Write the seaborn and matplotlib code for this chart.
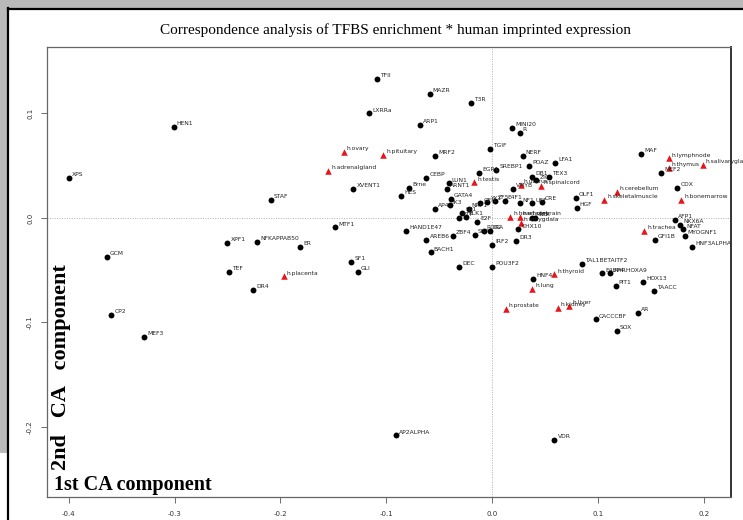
import matplotlib
matplotlib.use("Agg")
import matplotlib.pyplot as plt
import seaborn as sns
import pandas as pd
from matplotlib.patches import Rectangle
from matplotlib.lines import Line2D

# ---- data: TFBS (black dots) ----
tfbs_names = ["TFII", "MAZR", "T3R", "LXRRa", "ARP1", "HEN1", "MINI20", "R", "TGIF", "NERF",
              "MAF", "MEF2", "MRF2", "LFA1", "POAZ", "EGR1", "SREBP1", "DB1", "ZIC", "TEX3",
              "VMYB", "XPS", "CDX", "OLF1", "HGF", "CRE", "STAF", "CEBP", "XVENT1", "LUN1",
              "ARNT1", "Brne", "HES", "GATA4", "IK3", "AP4", "SP1", "NRF1", "ETF", "ELK1",
              "E2F", "GFI1", "YY1", "ZF5", "E4F1", "NF1", "USF", "MYB", "RFX", "CHX10",
              "DR3", "IRF2", "POU3F2", "DEC", "BACH1", "AREB6", "ZBF4", "SRF", "RORA", "CG",
              "HAND1E47", "MTF1", "XPF1", "NFKAPPAB50", "ER", "GCM", "TEF", "DR4", "CP2", "MEF3",
              "SF1", "GLI", "AFP1", "NKX6A", "NFAT", "MYOGNF1", "GFI1B", "HNF3ALPHA",
              "TAL1BETAITF2", "HNF4", "E4BP4", "AHRHOXA9", "HOX13", "PIT1", "TAACC", "AR",
              "CACCCBF", "SOX", "AP2ALPHA", "VDR"]
tfbs_x = [-0.109, -0.059, -0.020, -0.116, -0.068, -0.301, 0.019, 0.026, -0.002, 0.029,
          0.141, 0.160, -0.054, 0.060, 0.035, -0.012, 0.004, 0.038, 0.042, 0.054,
          0.020, -0.400, 0.175, 0.079, 0.080, 0.047, -0.209, -0.062, -0.131, -0.041,
          -0.043, -0.078, -0.086, -0.039, -0.040, -0.054, -0.028, -0.022, -0.031, -0.025,
          -0.014, -0.011, -0.005, 0.003, 0.012, 0.026, 0.038, 0.038, 0.041, 0.025,
          0.023, 0.000, 0.000, -0.031, -0.058, -0.062, -0.037, -0.016, -0.008, -0.002,
          -0.081, -0.148, -0.250, -0.222, -0.181, -0.364, -0.249, -0.226, -0.360, -0.329,
          -0.133, -0.127, 0.173, 0.178, 0.181, 0.182, 0.154, 0.189,
          0.085, 0.039, 0.104, 0.112, 0.143, 0.117, 0.153, 0.138,
          0.098, 0.118, -0.091, 0.059]
tfbs_y = [0.133, 0.119, 0.110, 0.100, 0.089, 0.087, 0.086, 0.081, 0.066, 0.059,
          0.061, 0.043, 0.059, 0.053, 0.050, 0.043, 0.046, 0.039, 0.036, 0.039,
          0.028, 0.038, 0.029, 0.019, 0.010, 0.015, 0.017, 0.038, 0.028, 0.033,
          0.028, 0.029, 0.021, 0.018, 0.012, 0.009, 0.005, 0.009, 0.000, 0.001,
          -0.004, 0.014, 0.015, 0.016, 0.016, 0.014, 0.014, 0.000, 0.000, -0.011,
          -0.022, -0.026, -0.047, -0.047, -0.033, -0.021, -0.017, -0.016, -0.012, -0.012,
          -0.012, -0.009, -0.024, -0.023, -0.028, -0.037, -0.052, -0.069, -0.093, -0.114,
          -0.042, -0.052, -0.002, -0.007, -0.011, -0.017, -0.021, -0.028,
          -0.044, -0.058, -0.053, -0.053, -0.061, -0.065, -0.070, -0.091,
          -0.097, -0.108, -0.208, -0.212]

# ---- data: tissues (red triangles) ----
tissue_names = ["h.lymphnode", "h.thymus", "h.salivarygland", "h.ovary", "h.pituitary",
                "h.adrenalgland", "h.testis", "h.uterus", "h.spinalcord", "h.cerebellum",
                "h.skeletalmuscle", "h.bonemarrow", "h.heart", "h.wholebrain", "h.amygdala",
                "h.trachea", "h.placenta", "h.thyroid", "h.lung", "h.prostate", "h.kidney",
                "h.liver"]
tissue_x = [0.167, 0.167, 0.199, -0.140, -0.103, -0.155, -0.017, 0.027, 0.046, 0.118,
            0.106, 0.179, 0.017, 0.026, 0.027, 0.144, -0.197, 0.059, 0.038, 0.013, 0.062,
            0.073]
tissue_y = [0.057, 0.048, 0.051, 0.063, 0.060, 0.045, 0.034, 0.032, 0.031, 0.025,
            0.017, 0.017, 0.001, 0.001, -0.005, -0.012, -0.056, -0.054, -0.068, -0.087,
            -0.086, -0.084]

title = "Correspondence analysis of TFBS enrichment * human imprinted expression"
x_ticks = [-0.4, -0.3, -0.2, -0.1, 0.0, 0.1, 0.2]
y_ticks = [-0.2, -0.1, 0.0, 0.1]

df_t = pd.DataFrame({"x": tfbs_x, "y": tfbs_y, "name": tfbs_names})
df_s = pd.DataFrame({"x": tissue_x, "y": tissue_y, "name": tissue_names})

W, H = 743, 520
fig = plt.figure(figsize=(W / 100, H / 100), dpi=100)
fig.patch.set_facecolor("white")

# window decoration (screenshot frame)
fig.add_artist(Rectangle((0, 1 - 8 / H), 1, 8 / H, transform=fig.transFigure,
                         facecolor="#b9b9b9", edgecolor="none"))
fig.add_artist(Rectangle((0, 1 - 453 / H), 7 / W, 453 / H, transform=fig.transFigure,
                         facecolor="#b9b9b9", edgecolor="none"))
fig.add_artist(Line2D([8 / W, 8 / W], [0, 1 - 8 / H], transform=fig.transFigure,
                      color="black", lw=1.6))
fig.add_artist(Line2D([8 / W, 1], [1 - 9 / H, 1 - 9 / H], transform=fig.transFigure,
                      color="black", lw=1.6))

ax = fig.add_axes([47 / W, 23 / H, (731 - 47) / W, (497 - 47) / H])

sns.scatterplot(data=df_t, x="x", y="y", ax=ax, color="black", marker="o", s=18,
                edgecolor="black", linewidth=0, zorder=3)
sns.scatterplot(data=df_s, x="x", y="y", ax=ax, color="#e8141b", marker="^", s=22,
                edgecolor="#e8141b", linewidth=0, zorder=3)

for df in (df_t, df_s):
    for _, r in df.iterrows():
        ax.annotate(r["name"], (r["x"], r["y"]), xytext=(2.2, 0.6), textcoords="offset points",
                    fontsize=4.3, ha="left", va="bottom", color="#222222",
                    family="DejaVu Sans", annotation_clip=False, clip_on=False, zorder=4)

ax.axvline(0, color="#b0b0b0", lw=0.7, ls=(0, (1, 1.5)), zorder=1)
ax.axhline(0, color="#b0b0b0", lw=0.7, ls=(0, (1, 1.5)), zorder=1)

ax.set_xlim(-0.4206, 0.2259)
ax.set_ylim(-0.267, 0.1636)
ax.set_xticks(x_ticks)
ax.set_yticks(y_ticks)
ax.set_xticklabels([f"{v:.1f}" for v in x_ticks], fontsize=5, color="#333333")
ax.set_yticklabels([f"{v:.1f}" for v in y_ticks], fontsize=5, color="#333333",
                   rotation=90, va="center")
ax.tick_params(axis="both", direction="out", length=4, width=0.6, color="#555555", pad=6)
for sp in ax.spines.values():
    sp.set_color("#666666")
    sp.set_linewidth(0.9)
ax.spines["right"].set_color("#333333")
ax.spines["right"].set_linewidth(1.4)
ax.set_xlabel("")
ax.set_ylabel("")

ax.text(0.010, 0.004, "1st CA component", transform=ax.transAxes, fontsize=14.5,
        fontweight="bold", family="Liberation Serif", ha="left", va="bottom")
ax.text(0.006, 0.06, "2nd   CA   component", transform=ax.transAxes, fontsize=16,
        fontweight="bold", family="Liberation Serif", ha="left", va="bottom", rotation=90)

fig.text(395 / W, 1 - 30 / H, title, fontsize=11, family="Liberation Serif",
         ha="center", va="center")

fig.savefig("out.png", dpi=100)
